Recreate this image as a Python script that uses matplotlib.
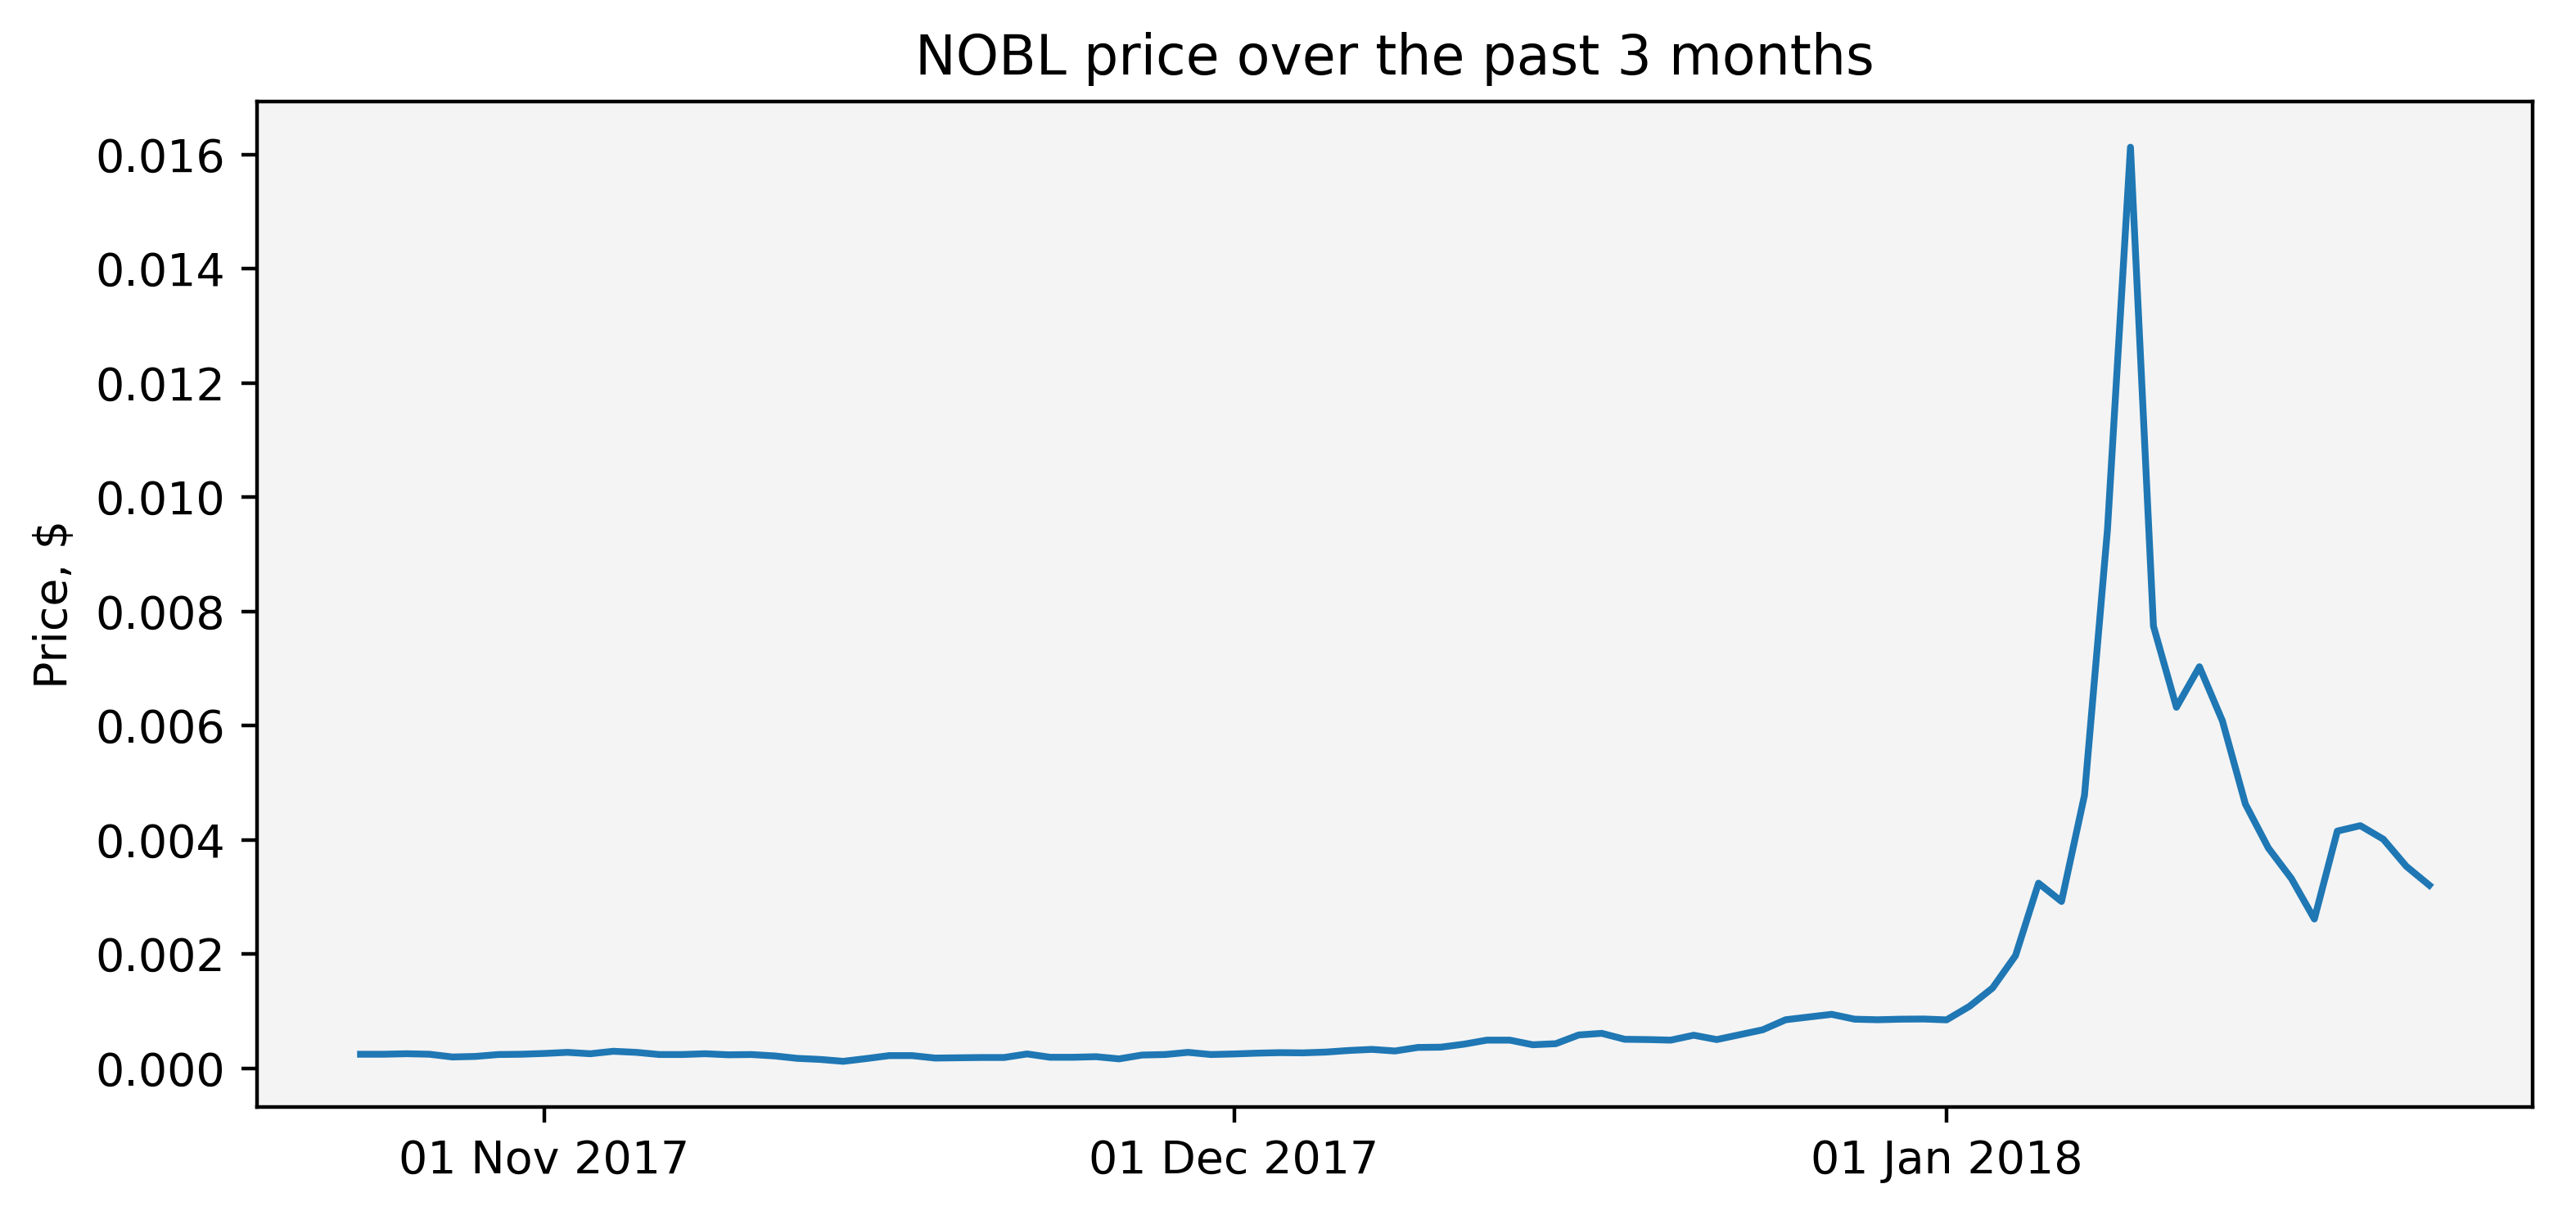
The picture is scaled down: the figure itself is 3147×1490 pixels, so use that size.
import matplotlib
matplotlib.use('Agg')
import matplotlib.pyplot as plt
import matplotlib.dates as mdates
import pandas as pd

# daily closing price, 24 Oct 2017 .. 22 Jan 2018
start_date = '2017-10-24'
prices = [
  0.000243, 0.000243, 0.000252, 0.000243, 0.000195, 0.000205, 0.000238, 0.000243,
  0.000257, 0.000276, 0.000252, 0.000295, 0.000276, 0.000238, 0.000238, 0.000252,
  0.000233, 0.000238, 0.000214, 0.000171, 0.000152, 0.000119, 0.000167, 0.000219,
  0.000219, 0.000176, 0.000181, 0.000186, 0.000186, 0.000248, 0.000190, 0.000190,
  0.000200, 0.000162, 0.000229, 0.000238, 0.000276, 0.000238, 0.000248, 0.000262,
  0.000271, 0.000267, 0.000281, 0.000309, 0.000328, 0.000300, 0.000362, 0.000367,
  0.000419, 0.000490, 0.000490, 0.000409, 0.000428, 0.000581, 0.000609, 0.000505,
  0.000500, 0.000490, 0.000576, 0.000500, 0.000585, 0.000671, 0.000847, 0.000895,
  0.000942, 0.000857, 0.000847, 0.000857, 0.000860, 0.000845, 0.001083, 0.001403,
  0.001971, 0.003239, 0.002919, 0.004779, 0.009434, 0.016127, 0.007740, 0.006319,
  0.007029, 0.006081, 0.004624, 0.003854, 0.003321, 0.002611, 0.004151, 0.004246,
  0.004009, 0.003534, 0.003203,
]
dates = pd.date_range(start_date, periods=len(prices), freq='D')

title = 'NOBL price over the past 3 months'
y_label = 'Price, $'


def plot_price(fp):
  fig = plt.figure(figsize=(7.8675, 3.725), dpi=400)
  ax = fig.add_axes([0.0998, 0.0926, 0.8834, 0.8242])
  ax.set_facecolor('#f4f4f4')
  ax.plot(dates, prices, color='#1f77b4', linewidth=1.5)
  ax.xaxis.set_major_locator(mdates.MonthLocator())
  ax.xaxis.set_major_formatter(mdates.DateFormatter('%d %b %Y'))
  ax.set_ylabel(y_label)
  ax.set_title(title)
  fig.savefig(fp, dpi=400)


if __name__ == '__main__':
  plot_price('out.png')
